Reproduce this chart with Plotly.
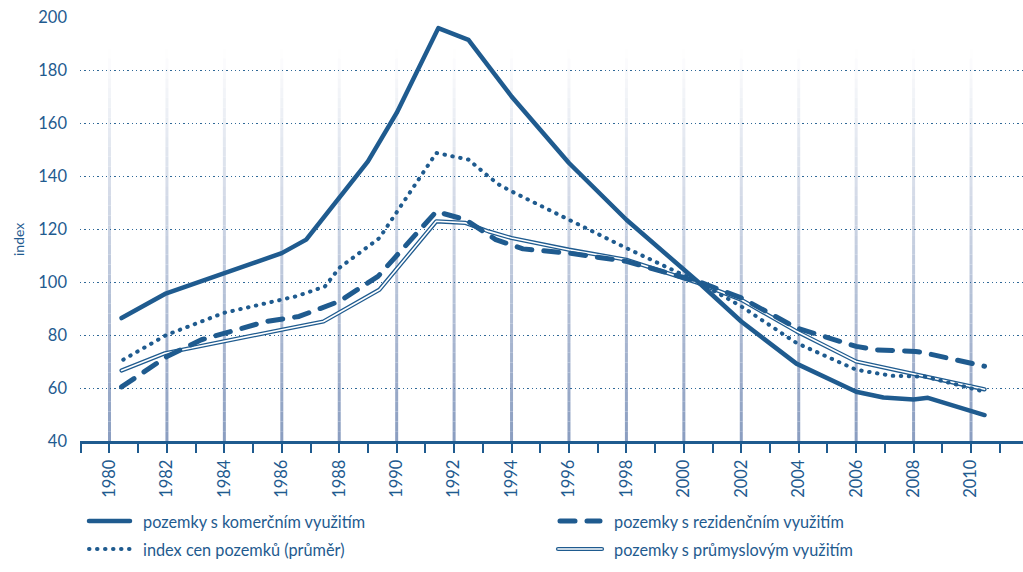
import plotly.graph_objects as go

# ---- data ----
tick_years = list(range(1980, 2011, 2))
y_ticks = [40, 60, 80, 100, 120, 140, 160, 180, 200]

komercni_x = [1980.42, 1981.93, 1986.0, 1986.85, 1989.0, 1990.0, 1991.45, 1992.5, 1994.0,
              1996.0, 1998.0, 2000.5, 2002.0, 2003.92, 2006.0, 2006.95, 2008.0, 2008.5, 2010.47]
komercni_y = [86.4, 95.5, 110.9, 116.0, 145.5, 163.8, 195.8, 191.4, 170.0,
              144.9, 123.5, 100.0, 85.1, 69.2, 58.6, 56.4, 55.7, 56.3, 49.8]

rezidencni_x = [1980.42, 1982.0, 1983.2, 1984.3, 1985.45, 1986.6, 1987.45, 1988.0, 1989.35, 1990.1,
                1991.38, 1992.4, 1993.45, 1994.4, 1996.0, 1998.0, 2000.5, 2002.0, 2003.92,
                2006.0, 2006.7, 2008.07, 2008.4, 2010.47]
rezidencni_y = [60.4, 71.9, 78.2, 81.4, 85.1, 87.0, 90.2, 92.7, 102.1, 110.9,
                126.6, 123.5, 116.0, 112.5, 110.9, 107.8, 100.2, 94.0, 82.7,
                75.7, 74.4, 73.8, 73.2, 68.2]

prumer_x = [1980.48, 1982.0, 1983.97, 1986.0, 1986.5, 1987.5, 1988.0, 1989.4, 1991.38, 1991.96,
            1992.5, 1993.2, 1993.57, 1994.0, 1996.0, 1998.0, 2000.5, 2002.0, 2003.92,
            2006.0, 2007.24, 2008.4, 2010.47]
prumer_y = [70.7, 80.1, 88.3, 93.3, 94.6, 98.3, 105.3, 116.6, 148.7, 147.4,
            146.2, 139.8, 136.7, 134.2, 123.5, 112.8, 100.0, 90.8, 77.0,
            66.9, 64.6, 64.3, 58.6]

prumysl_x = [1980.42, 1981.93, 1986.0, 1987.45, 1989.4, 1991.38, 1992.4, 1993.2, 1994.0,
             1996.0, 1998.0, 2000.5, 2002.0, 2003.92, 2006.0, 2010.47]
prumysl_y = [66.6, 73.1, 82.0, 85.1, 97.1, 122.9, 122.3, 119.1, 116.6,
             112.2, 108.4, 99.6, 93.3, 81.4, 70.0, 59.5]

names = ["pozemky s komerčním využitím", "pozemky s rezidenčním využitím",
         "index cen pozemků (průměr)", "pozemky s průmyslovým využitím"]

# ---- style ----
BLUE = "#1f5b8f"
TXT = "#1f5b8f"
FONT = "Lato"

fig = go.Figure()

# double line: coloured wide line + white core
fig.add_trace(go.Scatter(x=prumysl_x, y=prumysl_y, mode="lines", name=names[3],
                         line=dict(color=BLUE, width=4.2), showlegend=False))
fig.add_trace(go.Scatter(x=prumysl_x, y=prumysl_y, mode="lines", name=names[3] + " ",
                         line=dict(color="white", width=1.6), showlegend=False, hoverinfo="skip"))
fig.add_trace(go.Scatter(x=prumer_x, y=prumer_y, mode="lines", name=names[2],
                         line=dict(color=BLUE, width=4, dash="0.5px,7.5px"), showlegend=False))
fig.add_trace(go.Scatter(x=rezidencni_x, y=rezidencni_y, mode="lines", name=names[1],
                         line=dict(color=BLUE, width=5, dash="15px,12px"), showlegend=False))
fig.add_trace(go.Scatter(x=komercni_x, y=komercni_y, mode="lines", name=names[0],
                         line=dict(color=BLUE, width=4.5), showlegend=False))

shapes = []
# gradient vertical gridlines at labelled years
top_v, bot_v, nseg = 188.0, 40.0, 40
c0 = (255, 255, 255)
c1 = (138, 157, 192)
for yr in tick_years:
    for i in range(nseg):
        t = (i + 0.5) / nseg
        col = tuple(int(round(c0[k] + (c1[k] - c0[k]) * t)) for k in range(3))
        ya = top_v + (bot_v - top_v) * i / nseg
        yb = top_v + (bot_v - top_v) * (i + 1) / nseg
        shapes.append(dict(type="line", xref="x", yref="y", x0=yr, x1=yr, y0=ya, y1=yb,
                           line=dict(color="rgb(%d,%d,%d)" % col, width=3), layer="below"))

legend_start = len(shapes)
L, T, H, W = 80, 17, 424, 943
def px(x):
    return (x - L) / W
def py(y):
    return (T + H - y) / H

leg_items = [
    (names[0], 87, 132, 141, 521, dict(color=BLUE, width=4.5)),
    (names[1], 558, 602, 612, 521, dict(color=BLUE, width=5, dash="15px,12px")),
    (names[2], 87, 132, 141, 549, dict(color=BLUE, width=4, dash="0.5px,7.5px")),
    (names[3], 558, 602, 612, 549, None),
]
annotations = []
for name, xa, xb, xt, yy, ln in leg_items:
    if ln is None:
        shapes.append(dict(type="line", xref="paper", yref="paper", x0=px(xa), x1=px(xb),
                           y0=py(yy), y1=py(yy), line=dict(color=BLUE, width=4.2), layer="above"))
        shapes.append(dict(type="line", xref="paper", yref="paper", x0=px(xa), x1=px(xb),
                           y0=py(yy), y1=py(yy), line=dict(color="white", width=1.6), layer="above"))
    else:
        shapes.append(dict(type="line", xref="paper", yref="paper", x0=px(xa + 2), x1=px(xb - 2),
                           y0=py(yy), y1=py(yy), line=ln, layer="above"))
    annotations.append(dict(text=name, xref="paper", yref="paper", x=px(xt), y=py(yy),
                            xanchor="left", yanchor="middle", showarrow=False,
                            font=dict(family=FONT, size=16.3, color=TXT)))

annotations.append(dict(text="index", xref="paper", yref="paper", x=px(18), y=py(240),
                        xanchor="center", yanchor="middle", showarrow=False, textangle=-90,
                        font=dict(family=FONT, size=14, color=TXT)))

fig.update_layout(
    width=1023, height=572,
    margin=dict(l=L, r=0, t=T, b=572 - T - H, autoexpand=False),
    paper_bgcolor="white", plot_bgcolor="white",
    showlegend=False,
    shapes=shapes, annotations=annotations,
    font=dict(family=FONT, color=TXT),
    xaxis=dict(range=[1978.973, 2011.81], tickmode="array", tickvals=tick_years,
               ticktext=[str(y) for y in tick_years], tickangle=-90, automargin=False,
               showgrid=False, zeroline=False,
               showline=True, linecolor=BLUE, linewidth=3,
               ticks="outside", ticklen=9, tickwidth=2, tickcolor=BLUE,
               minor=dict(tick0=1981, dtick=2, ticks="outside", ticklen=9, tickwidth=2,
                          tickcolor=BLUE, showgrid=False),
               tickfont=dict(family=FONT, size=16.5, color=TXT)),
    yaxis=dict(range=[40, 200], tickmode="array", tickvals=y_ticks,
               ticktext=[str(v) for v in y_ticks], automargin=False,
               showgrid=True, gridcolor="#2f6897", gridwidth=1, griddash="1.3px,3px",
               zeroline=False, showline=False, ticks="", ticklabelstandoff=12,
               tickfont=dict(family=FONT, size=16.5, color=TXT)),
)

post = """
document.body.style.margin = '0';
document.body.style.padding = '0';
var gd = document.getElementById('{plot_id}');
function fixCaps(){
  gd.querySelectorAll('.scatterlayer path.js-line').forEach(function(p){
    p.style.strokeLinecap='round'; p.style.strokeLinejoin='round';
  });
  gd.querySelectorAll('.shapelayer path').forEach(function(p){
    var idx = parseInt(p.getAttribute('data-index'));
    if (!isNaN(idx) && idx >= %d) { p.style.strokeLinecap='round'; }
  });
}
fixCaps();
if (gd.on) { gd.on('plotly_afterplot', fixCaps); }
""" % legend_start

fig.write_html("out.html", post_script=post, config={"displayModeBar": False})
